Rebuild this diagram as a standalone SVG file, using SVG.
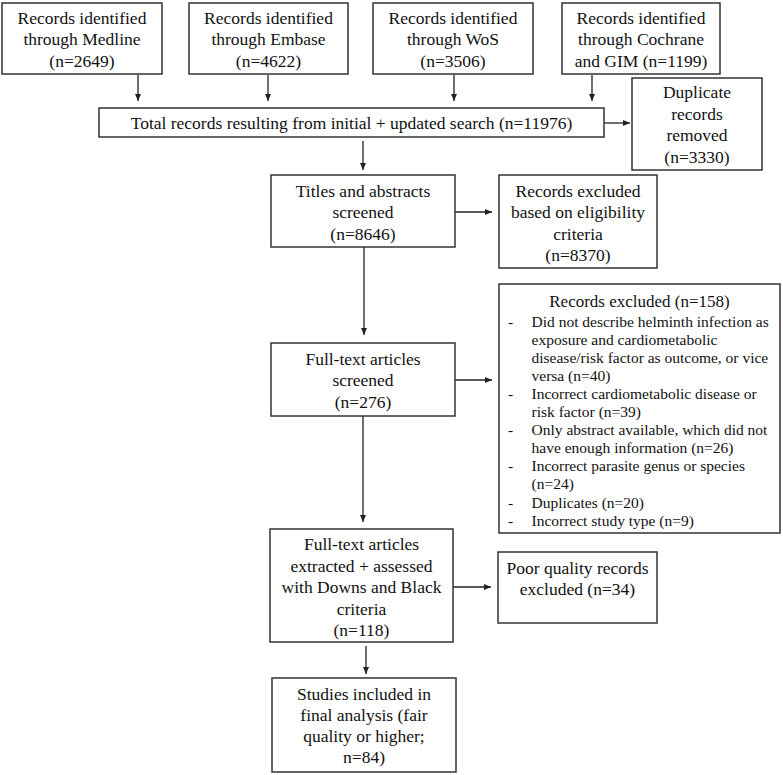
<svg xmlns="http://www.w3.org/2000/svg" width="783" height="775" viewBox="0 0 783 775">
<defs>
<style>
.box{fill:#fff;stroke:#333;stroke-width:1.5}
.t{font-family:"Liberation Serif","Times New Roman",serif;font-size:17.5px;fill:#111;text-anchor:middle}
.ti{font-family:"Liberation Serif","Times New Roman",serif;font-size:17px;fill:#111;text-anchor:middle}
.l{font-family:"Liberation Serif","Times New Roman",serif;font-size:15.5px;fill:#111}
.c{stroke:#222;stroke-width:1.3;fill:none;marker-end:url(#ah)}
</style>
<marker id="ah" markerUnits="userSpaceOnUse" markerWidth="7" markerHeight="6" refX="7" refY="3" orient="auto">
<path d="M0,0 L7,3 L0,6 z" fill="#222"/>
</marker>
</defs>
<rect width="783" height="775" fill="#fff"/>
<g id="connectors">
<line class="c" x1="138" y1="75" x2="138" y2="101"/>
<line class="c" x1="268" y1="75" x2="268" y2="101"/>
<line class="c" x1="454" y1="75" x2="454" y2="101"/>
<line class="c" x1="592" y1="75" x2="592" y2="101"/>
<line class="c" x1="604" y1="123" x2="630" y2="123"/>
<line class="c" x1="363" y1="141" x2="363" y2="170"/>
<line class="c" x1="455" y1="212" x2="492" y2="212"/>
<line class="c" x1="364" y1="247" x2="364" y2="335"/>
<line class="c" x1="455" y1="380" x2="492" y2="380"/>
<line class="c" x1="363" y1="416" x2="363" y2="522"/>
<line class="c" x1="453" y1="587" x2="491" y2="587"/>
<line class="c" x1="366" y1="646" x2="366" y2="674"/>
</g>
<g id="medline">
<rect class="box" x="2" y="3" width="160" height="71"/>
<text class="t" x="82" y="23.5">Records identified</text>
<text class="t" x="82" y="45">through Medline</text>
<text class="t" x="82" y="66.5">(n=2649)</text>
</g>
<g id="embase">
<rect class="box" x="189" y="3" width="159" height="71"/>
<text class="t" x="268.5" y="23.5">Records identified</text>
<text class="t" x="268.5" y="45">through Embase</text>
<text class="t" x="268.5" y="66.5">(n=4622)</text>
</g>
<g id="wos">
<rect class="box" x="373" y="3" width="160" height="71"/>
<text class="t" x="453" y="23.5">Records identified</text>
<text class="t" x="453" y="45">through WoS</text>
<text class="t" x="453" y="66.5">(n=3506)</text>
</g>
<g id="cochrane">
<rect class="box" x="562" y="3" width="158" height="71"/>
<text class="t" x="641" y="23.5">Records identified</text>
<text class="t" x="641" y="45">through Cochrane</text>
<text class="t" x="641" y="66.5">and GIM (n=1199)</text>
</g>
<g id="total">
<rect class="box" x="99" y="108" width="505" height="29"/>
<text class="t" x="351.5" y="128.5">Total records resulting from initial + updated search (n=11976)</text>
</g>
<g id="duplicates">
<rect class="box" x="632" y="78" width="130" height="92"/>
<text class="t" x="697" y="98">Duplicate</text>
<text class="t" x="697" y="119.5">records</text>
<text class="t" x="697" y="141">removed</text>
<text class="t" x="697" y="162.5">(n=3330)</text>
</g>
<g id="titles">
<rect class="box" x="271" y="175" width="184" height="72"/>
<text class="t" x="363" y="196.5">Titles and abstracts</text>
<text class="t" x="363" y="218">screened</text>
<text class="t" x="363" y="239.5">(n=8646)</text>
</g>
<g id="excluded-eligibility">
<rect class="box" x="499" y="175" width="158" height="93"/>
<text class="t" x="578" y="196.5">Records excluded</text>
<text class="t" x="578" y="218">based on eligibility</text>
<text class="t" x="578" y="239.5">criteria</text>
<text class="t" x="578" y="261">(n=8370)</text>
</g>
<g id="fulltext">
<rect class="box" x="271" y="343" width="184" height="73"/>
<text class="t" x="363" y="364.5">Full-text articles</text>
<text class="t" x="363" y="386">screened</text>
<text class="t" x="363" y="407.5">(n=276)</text>
</g>
<g id="excluded-158">
<rect class="box" x="499" y="284" width="281" height="249"/>
<text class="ti" x="639.5" y="306.5">Records excluded (n=158)</text>
<g class="l">
<text x="508" y="326.5">-</text>
<text x="531.5" y="326.5">Did not describe helminth infection as</text>
<text x="531.5" y="344.6">exposure and cardiometabolic</text>
<text x="531.5" y="362.7">disease/risk factor as outcome, or vice</text>
<text x="531.5" y="380.8">versa (n=40)</text>
<text x="508" y="398.9">-</text>
<text x="531.5" y="398.9">Incorrect cardiometabolic disease or</text>
<text x="531.5" y="417">risk factor (n=39)</text>
<text x="508" y="435.1">-</text>
<text x="531.5" y="435.1">Only abstract available, which did not</text>
<text x="531.5" y="453.2">have enough information (n=26)</text>
<text x="508" y="471.3">-</text>
<text x="531.5" y="471.3">Incorrect parasite genus or species</text>
<text x="531.5" y="489.4">(n=24)</text>
<text x="508" y="507.5">-</text>
<text x="531.5" y="507.5">Duplicates (n=20)</text>
<text x="508" y="525.6">-</text>
<text x="531.5" y="525.6">Incorrect study type (n=9)</text>
</g>
</g>
<g id="extracted">
<rect class="box" x="270" y="529" width="183" height="113"/>
<text class="t" x="361.5" y="550">Full-text articles</text>
<text class="t" x="361.5" y="571.5">extracted + assessed</text>
<text class="t" x="361.5" y="593">with Downs and Black</text>
<text class="t" x="361.5" y="614.5">criteria</text>
<text class="t" x="361.5" y="636">(n=118)</text>
</g>
<g id="poor-quality">
<rect class="box" x="498" y="552" width="159" height="71"/>
<text class="t" x="577.5" y="573.5">Poor quality records</text>
<text class="t" x="577.5" y="595">excluded (n=34)</text>
</g>
<g id="included">
<rect class="box" x="272" y="678" width="184" height="94"/>
<text class="t" x="364" y="699.5">Studies included in</text>
<text class="t" x="364" y="721">final analysis (fair</text>
<text class="t" x="364" y="742">quality or higher;</text>
<text class="t" x="364" y="763">n=84)</text>
</g>
</svg>
